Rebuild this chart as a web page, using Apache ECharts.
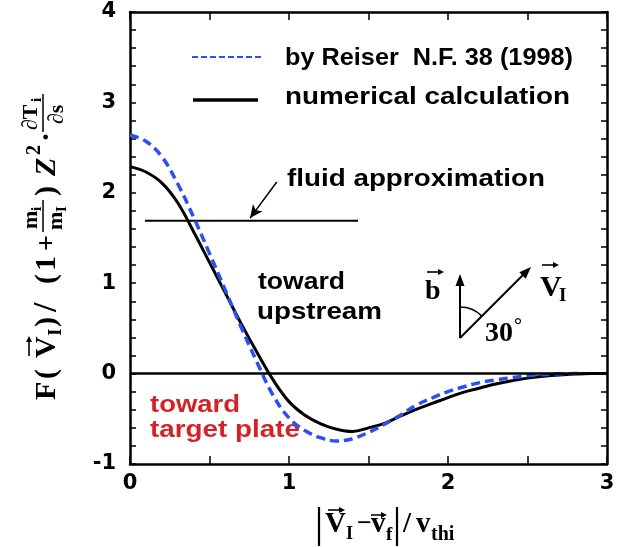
<!DOCTYPE html>
<html><head><meta charset="utf-8">
<script src="https://cdn.jsdelivr.net/npm/echarts@6/dist/echarts.min.js"></script>
<style>html,body{margin:0;padding:0;background:#fff}#c{width:628px;height:547px}</style>
</head><body><div id="c"></div>
<script>
// ---- data ----
const reiserX = [0, 0.1, 0.2, 0.3, 0.4, 0.5, 0.6, 0.7, 0.8, 0.9, 1.0, 1.1, 1.2, 1.3, 1.4, 1.5, 1.6, 1.7, 1.8, 1.9, 2.0, 2.1, 2.2, 2.3, 2.4, 2.5, 2.6, 2.7, 2.8, 2.85];
const reiserY = [2.64, 2.57, 2.40, 2.10, 1.73, 1.33, 0.92, 0.51, 0.12, -0.24, -0.49, -0.63, -0.71, -0.745, -0.72, -0.65, -0.56, -0.46, -0.35, -0.27, -0.20, -0.145, -0.10, -0.07, -0.045, -0.025, -0.01, -0.003, 0.0, 0.0];
const numX = [0, 0.1, 0.2, 0.3, 0.4, 0.5, 0.6, 0.7, 0.8, 0.9, 1.0, 1.1, 1.2, 1.3, 1.4, 1.5, 1.6, 1.7, 1.8, 1.9, 2.0, 2.1, 2.2, 2.3, 2.4, 2.5, 2.6, 2.7, 2.8, 2.9, 3.0];
const numY = [2.29, 2.23, 2.11, 1.89, 1.57, 1.23, 0.89, 0.55, 0.23, -0.07, -0.31, -0.46, -0.555, -0.615, -0.64, -0.60, -0.55, -0.47, -0.395, -0.33, -0.265, -0.205, -0.16, -0.115, -0.08, -0.05, -0.03, -0.015, -0.005, 0.0, 0.0];
const fluidX = [0.094, 1.434];
const fluidY = [1.69, 1.69];
const pointerX = [0.923, 0.755];
const pointerY = [2.12, 1.72];
const xTickLabels = ['0', '1', '2', '3'];
const yTickLabels = ['-1', '0', '1', '2', '3', '4'];
const legendNames = ['by Reiser  N.F. 38 (1998)', 'numerical calculation'];

const SERIF = '"Liberation Serif", "Times New Roman", serif';
const SANS = '"Liberation Sans", Arial, sans-serif';
const TICKFONT = '"DejaVu Sans", sans-serif';
const BLUE = '#2d4ff0';
const RED = '#d3232a';

const mctx = document.createElement('canvas').getContext('2d');
function fontStr(size, opts) {
  return (opts.italic ? 'italic ' : '') + 'bold ' + size + 'px ' + (opts.family || SERIF);
}
function txt(x, baseY, s, size, opts) {
  opts = opts || {};
  const el = {
    type: 'text', x: x, y: baseY - 0.305 * size, silent: true,
    style: { text: s, font: fontStr(size, opts), fill: opts.color || '#000', align: 'left', verticalAlign: 'middle' }
  };
  if (opts.width) {
    mctx.font = fontStr(size, opts);
    el.scaleX = opts.width / mctx.measureText(s).width;
  }
  return el;
}
function seg(x1, y1, x2, y2, lw, extra) {
  return Object.assign({ type: 'line', silent: true, shape: { x1, y1, x2, y2 }, style: { stroke: '#000', lineWidth: lw } }, extra || {});
}
function arrow(x1, y1, x2, y2, hl, hw, lw) {
  const dx = x2 - x1, dy = y2 - y1, L = Math.hypot(dx, dy), ux = dx / L, uy = dy / L;
  const bx = x2 - ux * hl, by = y2 - uy * hl;
  return [
    seg(x1, y1, bx + ux, by + uy, lw),
    { type: 'polygon', silent: true, shape: { points: [[x2, y2], [bx - uy * hw / 2, by + ux * hw / 2], [bx + uy * hw / 2, by - ux * hw / 2]] }, style: { fill: '#000' } }
  ];
}

const chart = echarts.init(document.getElementById('c'), null, { renderer: 'canvas' });

function isInt(v) { return Math.abs(v - Math.round(v)) < 1e-6; }
const labelStyle = { fontFamily: TICKFONT, fontWeight: 'bold', fontSize: 21, color: '#000' };

function xAxisDef(pos, showLabel) {
  return {
    type: 'value', min: 0, max: 3, interval: 0.5, position: pos,
    axisLine: { show: true, onZero: false, lineStyle: { color: '#000', width: 2.5 } },
    axisTick: { show: true, inside: true, length: 8, lineStyle: { color: '#000', width: 1.5 } },
    axisLabel: Object.assign({ show: showLabel, margin: 9, formatter: v => isInt(v) ? xTickLabels[Math.round(v)] : '' }, labelStyle),
    splitLine: { show: false }
  };
}
function yAxisDef(pos, showLabel) {
  return {
    type: 'value', min: -1, max: 4, interval: 0.2, position: pos,
    axisLine: { show: true, onZero: false, lineStyle: { color: '#000', width: 2.5 } },
    axisTick: { show: true, inside: true, length: 6, lineStyle: { color: '#000', width: 1.5 } },
    axisLabel: Object.assign({ show: showLabel, margin: 14, formatter: v => isInt(v) ? yTickLabels[Math.round(v) + 1] : '' }, labelStyle),
    splitLine: { show: false }
  };
}

// y-axis title (rotated group)
const yTitleChildren = [
  txt(0, 0, 'F', 30), txt(21, 0, '(', 30), txt(42, 0, 'V', 30),
  ...arrow(44, -27, 64, -27, 6, 6, 1.6),
  txt(64, 6, 'I', 19), txt(73, 0, ')', 30), txt(88, 2, '/', 34),
  txt(116, 0, '(', 30), txt(129, 0, '1', 30), txt(149, 0, '+', 28),
  txt(171, -18, 'm', 22), txt(189, -14, 'i', 15), seg(168, -13, 200, -13, 1.5),
  txt(170, 7, 'm', 22), txt(188, 11, 'I', 15),
  txt(204, 0, ')', 30), txt(224, 0, 'Z', 30, { italic: true }), txt(245, -15, '2', 20),
  txt(258, 0, '·', 30),
  txt(270, -18, '∂T', 22), txt(298, -14, 'i', 15), seg(268, -13, 306, -13, 1.5),
  txt(276, 8, '∂s', 22)
];

const graphics = [
  // legend
  seg(192, 57, 263, 57, 2, { style: { stroke: BLUE, lineWidth: 2, lineDash: [6, 3] } }),
  txt(285, 66, legendNames[0], 24, { family: SANS, width: 288 }),
  seg(193, 100, 258, 100, 3.5),
  txt(285, 105, legendNames[1], 24, { family: SANS, width: 285 }),
  // annotations
  txt(287, 187, 'fluid approximation', 24, { family: SANS, width: 258 }),
  txt(258, 290, 'toward', 24, { family: SANS, width: 87 }),
  txt(257, 320, 'upstream', 24, { family: SANS, width: 125 }),
  txt(150, 413, 'toward', 24, { family: SANS, color: RED, width: 90 }),
  txt(150, 438, 'target plate', 24, { family: SANS, color: RED, width: 150 }),
  // inset vector diagram
  txt(425, 300, 'b', 28), ...arrow(427, 272, 444, 272, 6, 6, 1.6),
  ...arrow(460, 338, 460, 274, 12, 9, 2),
  ...arrow(460, 338, 531, 267, 12, 9, 2),
  { type: 'arc', silent: true, shape: { cx: 460, cy: 338, r: 31, startAngle: -Math.PI / 2, endAngle: -Math.PI / 4, clockwise: true }, style: { stroke: '#000', lineWidth: 1.6, fill: null } },
  txt(485, 342, '30', 28), txt(514, 333, '°', 20),
  txt(540, 297, 'V', 30), ...arrow(542, 265, 559, 265, 6, 6, 1.6), txt(559, 302, 'I', 19),
  // x-axis title
  seg(319, 507, 319, 546, 2.2),
  txt(325, 533, 'V', 29), ...arrow(328, 510, 345, 510, 6, 6, 1.6), txt(346, 540, 'I', 18),
  txt(357, 532, '−', 26),
  txt(371, 533, 'v', 29), ...arrow(371, 515, 387, 515, 6, 6, 1.5), txt(386, 541, 'f', 19),
  seg(397, 507, 397, 546, 2.2),
  txt(403, 533, '/', 29), txt(416, 533, 'v', 29), txt(431, 541, 'thi', 20),
  // y-axis title
  { type: 'group', x: 56, y: 400, rotation: Math.PI / 2, children: yTitleChildren }
];

chart.setOption({
  animation: false,
  backgroundColor: '#fff',
  grid: { left: 130, right: 21, top: 12, bottom: 83, containLabel: false },
  xAxis: [xAxisDef('bottom', true), xAxisDef('top', false)],
  yAxis: [yAxisDef('left', true), yAxisDef('right', false)],
  series: [
    {
      type: 'line', name: legendNames[1], data: numX.map((x, i) => [x, numY[i]]),
      smooth: 0.4, symbol: 'none', lineStyle: { color: '#000', width: 3 }, z: 3
    },
    {
      type: 'line', name: legendNames[0], data: reiserX.map((x, i) => [x, reiserY[i]]),
      smooth: 0.4, symbol: 'none', lineStyle: { color: BLUE, width: 3.5, type: [9, 5] }, z: 4
    },
    {
      type: 'line', name: 'fluid approximation', data: fluidX.map((x, i) => [x, fluidY[i]]),
      symbol: 'none', lineStyle: { color: '#000', width: 2 }, z: 2,
      markLine: {
        silent: true, animation: false, symbol: ['none', 'none'], label: { show: false },
        lineStyle: { color: '#000', width: 2.5, type: 'solid' },
        emphasis: { disabled: true },
        data: [{ yAxis: 0 }]
      }
    },
    {
      type: 'line', name: 'pointer', data: [], symbol: 'none', z: 2,
      markLine: {
        silent: true, animation: false, symbol: ['none', 'arrow'], symbolSize: [9, 13], label: { show: false },
        lineStyle: { color: '#000', width: 1.5, type: 'solid' },
        emphasis: { disabled: true },
        data: [[{ coord: [pointerX[0], pointerY[0]] }, { coord: [pointerX[1], pointerY[1]] }]]
      }
    }
  ],
  graphic: graphics
});
</script></body></html>
